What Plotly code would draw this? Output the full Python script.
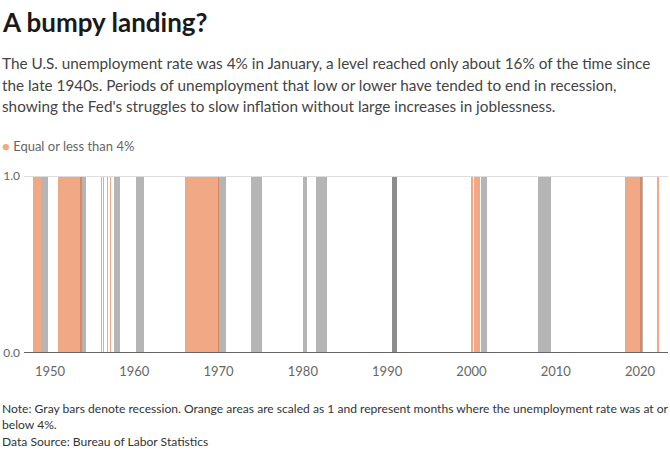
import plotly.graph_objects as go

# ---- data (decimal years) ----
# months where unemployment rate was at or below 4% (start, end)
low_start = [1948.0, 1951.0, 1956.03, 1956.29, 1956.76, 1957.08, 1966.0, 2000.0, 2000.33, 2000.67, 2018.25, 2021.98]
low_end   = [1948.92, 1953.76, 1956.15, 1956.38, 1956.88, 1957.2, 1970.08, 2000.17, 2000.6, 2001.0, 2020.2, 2022.2]

# NBER recessions (start, end)
rec_start = [1948.9, 1953.5, 1957.62, 1960.25, 1969.92, 1973.88, 1980.05, 1981.58, 1990.55, 2001.17, 2007.95, 2020.1]
rec_end   = [1949.75, 1954.3, 1958.25, 1961.1, 1970.85, 1975.2, 1980.5, 1982.88, 1991.15, 2001.88, 2009.45, 2020.3]

tick_years = [1950, 1960, 1970, 1980, 1990, 2000, 2010, 2020]
tick_labels = [str(y) for y in tick_years]

FONT = "Source Sans Pro, Lato, Roboto, sans-serif"
GRAY = "#b5b5b5"
ORANGE = "rgba(232,110,50,0.6)"

rec_mid = [(s + e) / 2 for s, e in zip(rec_start, rec_end)]
rec_w = [e - s for s, e in zip(rec_start, rec_end)]
rec_col = ["#8c8c8c" if 1990 < s < 1991 else GRAY for s in rec_start]
low_mid = [(s + e) / 2 for s, e in zip(low_start, low_end)]
low_w = [e - s for s, e in zip(low_start, low_end)]

fig = go.Figure()
fig.add_trace(go.Bar(x=rec_mid, y=[1] * len(rec_mid), width=rec_w,
                     marker=dict(color=rec_col, line=dict(width=0)),
                     showlegend=False, hoverinfo="skip"))
fig.add_trace(go.Bar(x=low_mid, y=[1] * len(low_mid), width=low_w,
                     marker=dict(color=ORANGE, line=dict(width=0)),
                     showlegend=False, name="Equal or less than 4%"))

W, H = 670, 452
ML, MR, MT, MB = 24, 2, 176, 99
ph = H - MT - MB


def py(p):
    return (H - MB - p) / ph


def px(p):
    return (p - ML) / (W - ML - MR)


ann = []
ann.append(dict(text="<b>A bumpy landing?</b>", x=px(0), y=py(22), xref="paper", yref="paper",
                xanchor="left", yanchor="middle", showarrow=False,
                font=dict(family=FONT, size=26, color="#1a1a1a")))
sub = ["The U.S. unemployment rate was 4% in January, a level reached only about 16% of the time since",
       "the late 1940s. Periods of unemployment that low or lower have tended to end in recession,",
       "showing the Fed's struggles to slow inflation without large increases in joblessness."]
for i, line in enumerate(sub):
    ann.append(dict(text=line, x=px(0), y=py(63 + i * 21.5), xref="paper", yref="paper",
                    xanchor="left", yanchor="middle", showarrow=False,
                    font=dict(family=FONT, size=15.3, color="#444444")))
ann.append(dict(text='<span style="color:#F2A882">●</span> Equal or less than 4%',
                x=px(0), y=py(146), xref="paper", yref="paper",
                xanchor="left", yanchor="middle", showarrow=False,
                font=dict(family=FONT, size=13, color="#666666")))
notes = ["Note: Gray bars denote recession. Orange areas are scaled as 1 and represent months where the unemployment rate was at or",
         "below 4%.",
         "Data Source: Bureau of Labor Statistics"]
for i, line in enumerate(notes):
    ann.append(dict(text=line, x=px(0), y=py(408 + i * 16.5), xref="paper", yref="paper",
                    xanchor="left", yanchor="middle", showarrow=False,
                    font=dict(family=FONT, size=12.1, color="#333333")))

fig.update_layout(
    width=W, height=H,
    margin=dict(l=ML, r=MR, t=MT, b=MB, autoexpand=False),
    paper_bgcolor="white", plot_bgcolor="white",
    barmode="overlay", bargap=0,
    showlegend=False,
    annotations=ann,
    shapes=[
        dict(type="line", xref="paper", yref="y", x0=0, x1=1, y0=1, y1=1,
             line=dict(color="#dddddd", width=2), layer="above"),
        dict(type="line", xref="paper", yref="y", x0=0, x1=1, y0=0, y1=0,
             line=dict(color="#666666", width=2), layer="above"),
    ],
    xaxis=dict(range=[1946.915, 2023.32], tickvals=tick_years, ticktext=tick_labels,
               showgrid=False, zeroline=False, showline=False, ticks="",
               ticklabelstandoff=9,
               tickfont=dict(family=FONT, size=13, color="#666666")),
    yaxis=dict(range=[0, 1], tickvals=[0, 1], ticktext=["0.0", "1.0"],
               showgrid=False, zeroline=False,
               showline=False, ticks="", ticklabelstandoff=3,
               tickfont=dict(family=FONT, size=12, color="#666666")),
)

fig.write_html("out.html")
